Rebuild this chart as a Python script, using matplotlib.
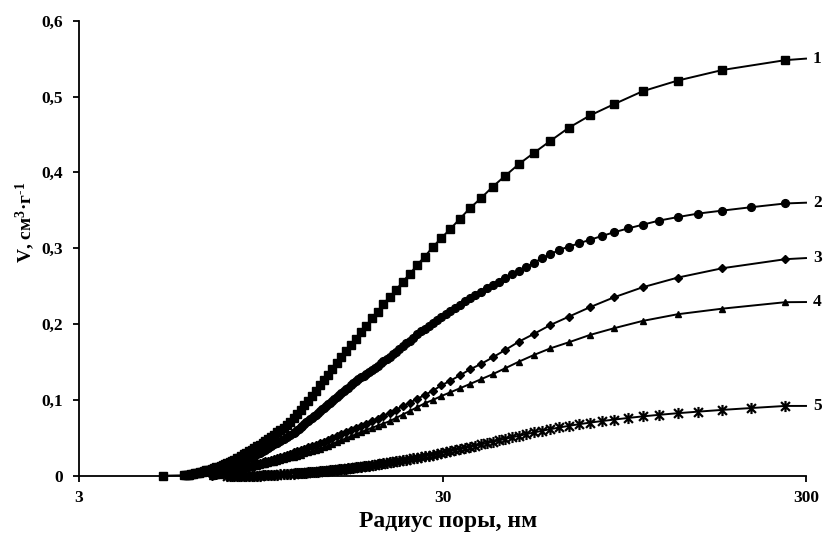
import matplotlib
matplotlib.use("Agg")
import matplotlib.pyplot as plt
from matplotlib.path import Path
from matplotlib.ticker import FixedLocator, FixedFormatter, NullLocator

plt.rcParams['font.family'] = ['Liberation Serif', 'DejaVu Serif']
plt.rcParams['font.weight'] = 'bold'
plt.rcParams['mathtext.fontset'] = 'custom'
plt.rcParams['mathtext.rm'] = 'Liberation Serif:bold'
plt.rcParams['mathtext.bf'] = 'Liberation Serif:bold'
plt.rcParams['mathtext.it'] = 'Liberation Serif:bold'

# ---------------- data ----------------
R_END = 300.0
V_END = [0.550, 0.360, 0.287, 0.229, 0.092]
LABELS = ["1", "2", "3", "4", "5"]

R1_START = [5.1]
V1_START = [0.0]

R_GRID = [263.2, 176.7, 133.0, 106.6, 88.97, 76.34, 66.84, 59.45, 53.53, 48.69,
          44.64, 41.22, 38.28, 35.74, 33.51, 31.55, 29.80, 28.23, 26.82, 25.55,
          24.39, 23.33, 22.36, 21.47, 20.64, 19.88, 19.17, 18.51, 17.90, 17.32,
          16.78, 16.27, 15.79, 15.34, 14.92, 14.51, 14.13, 13.77, 13.43, 13.10,
          12.79, 12.49, 12.21, 11.94, 11.68, 11.43, 11.19, 10.96, 10.74, 10.53,
          10.33, 10.14, 9.948, 9.768, 9.593, 9.425, 9.263, 9.106, 8.954, 8.807,
          8.666, 8.528, 8.395, 8.266, 8.141, 8.019, 7.901, 7.787, 7.676, 7.568,
          7.463, 7.361, 7.261, 7.164, 7.070, 6.978, 6.889, 6.802, 6.717, 6.634,
          6.553, 6.474, 6.397, 6.322, 6.248, 6.177, 6.107, 6.038, 5.971, 5.905,
          5.841]

R_DENSE = [263.2, 211.4, 176.7, 151.7, 133.0, 118.3, 106.6, 96.99, 88.97, 82.17,
           76.34, 71.28, 66.84, 62.93, 59.45, 56.34, 53.53, 50.99, 48.69, 46.58,
           44.64, 42.86, 41.22, 39.70, 38.28, 36.97, 35.74, 34.59, 33.51, 32.50,
           31.55, 30.65, 29.80, 28.99, 28.23, 27.51, 26.82, 26.17, 25.55, 24.96,
           24.39, 23.85, 23.33, 22.84, 22.36, 21.91, 21.47, 21.05, 20.64, 20.26,
           19.88, 19.52, 19.17, 18.84, 18.51, 18.20, 17.90, 17.60, 17.32, 17.04,
           16.78, 16.52, 16.27, 16.03, 15.79, 15.56, 15.34, 15.13, 14.92, 14.71,
           14.51, 14.32, 14.13, 13.95, 13.77, 13.60, 13.43, 13.26, 13.10, 12.94,
           12.79, 12.64, 12.49, 12.35, 12.21, 12.07, 11.94, 11.80,
           11.68, 11.43, 11.19, 10.96, 10.74, 10.53, 10.33, 10.14, 9.948, 9.768,
           9.593, 9.425, 9.263, 9.106, 8.954, 8.807, 8.666, 8.528, 8.395, 8.266,
           8.141, 8.019, 7.901, 7.787, 7.676, 7.568, 7.463, 7.361, 7.261, 7.164,
           7.070, 6.978, 6.889, 6.802, 6.717, 6.634, 6.553, 6.474, 6.397, 6.322,
           6.248, 6.177, 6.107, 6.038, 5.971, 5.905, 5.841]

V1 = [0.548, 0.535, 0.521, 0.507, 0.490, 0.475, 0.459, 0.4416, 0.4257, 0.411,
      0.3955, 0.381, 0.366, 0.353, 0.339, 0.3255, 0.3136, 0.3017, 0.289, 0.278,
      0.266, 0.256, 0.245, 0.236, 0.2265, 0.216, 0.2077, 0.198, 0.189, 0.180,
      0.172, 0.164, 0.156, 0.148, 0.141, 0.133, 0.126, 0.119, 0.112, 0.105,
      0.099, 0.093, 0.087, 0.081, 0.076, 0.071, 0.067, 0.063, 0.060, 0.057,
      0.054, 0.051, 0.048, 0.046, 0.043, 0.041, 0.039, 0.036, 0.034, 0.032,
      0.030, 0.028, 0.026, 0.024, 0.023, 0.021, 0.020, 0.018, 0.017, 0.016,
      0.014, 0.013, 0.012, 0.011, 0.010, 0.009, 0.008, 0.0075, 0.007, 0.006,
      0.0055, 0.005, 0.004, 0.0035, 0.003, 0.0025, 0.002, 0.0015, 0.001, 0.001,
      0.0005]

V2 = [0.359, 0.354, 0.3496, 0.3457, 0.341, 0.3364, 0.331, 0.326, 0.321, 0.316,
      0.311, 0.3066, 0.302, 0.298, 0.292, 0.2865, 0.281, 0.275, 0.2705, 0.2655,
      0.2605, 0.256, 0.2515, 0.247, 0.2425, 0.2385, 0.234, 0.2298, 0.2256, 0.2215,
      0.217, 0.2133, 0.2092, 0.2052, 0.2013, 0.1975, 0.1938, 0.1902, 0.1867, 0.1822,
      0.1782, 0.1745, 0.1708, 0.1672, 0.1637, 0.1603, 0.157, 0.1537, 0.1508, 0.148,
      0.1452, 0.1425, 0.1398, 0.1371, 0.1345, 0.132, 0.1295, 0.127, 0.1243, 0.1216,
      0.119, 0.1163, 0.1137, 0.1112, 0.1086, 0.1061, 0.1036, 0.1012, 0.0988, 0.0964,
      0.094, 0.0918, 0.0895, 0.0873, 0.0851, 0.0829, 0.0807, 0.0785, 0.0764, 0.0743,
      0.0723, 0.0702, 0.0681, 0.0661, 0.0641, 0.0621, 0.0602, 0.0582,
      0.0564, 0.0537, 0.0511, 0.0485, 0.0460, 0.0436, 0.0412, 0.0389, 0.0366, 0.0344,
      0.0322, 0.0300, 0.0283, 0.0266, 0.0250, 0.0234, 0.0219, 0.0204, 0.0192, 0.0181,
      0.0170, 0.0159, 0.0148, 0.0137, 0.0126, 0.0116, 0.0107, 0.0100, 0.0093, 0.0086,
      0.0079, 0.0073, 0.0067, 0.0061, 0.0055, 0.0050, 0.0045, 0.0040, 0.0035, 0.0030,
      0.0026, 0.0022, 0.0018, 0.0014, 0.0010, 0.0006, 0.0003]

V3 = [0.2855, 0.2736, 0.2612, 0.2485, 0.2353, 0.2222, 0.2098, 0.1988, 0.187, 0.1768,
      0.1658, 0.156, 0.1473, 0.1403, 0.1324, 0.1253, 0.1192, 0.1121, 0.1065, 0.1013,
      0.0963, 0.0916, 0.0871, 0.0828, 0.0790, 0.0754, 0.0719, 0.0686, 0.0656, 0.0627,
      0.0599, 0.0572, 0.0546, 0.0521, 0.0496, 0.0472, 0.0449, 0.0429, 0.0410, 0.0391,
      0.0373, 0.0355, 0.0338, 0.0321, 0.0306, 0.0292, 0.0278, 0.0264, 0.0251, 0.0238,
      0.0225, 0.0213, 0.0200, 0.0190, 0.0180, 0.0170, 0.0161, 0.0152, 0.0143, 0.0134,
      0.0124, 0.0115, 0.0106, 0.0097, 0.0086, 0.0075, 0.0064, 0.0055, 0.0046, 0.0037,
      0.0028, 0.0022, 0.0016, 0.0010, 0.0004, 0.0]

V4 = [0.2288, 0.2203, 0.2129, 0.2041, 0.1945, 0.1856, 0.176, 0.168, 0.1592, 0.1504,
      0.1417, 0.1338, 0.1272, 0.121, 0.1153, 0.110, 0.1051, 0.0999, 0.0955, 0.0903,
      0.0853, 0.0806, 0.0762, 0.0719, 0.0688, 0.0659, 0.0630, 0.0603, 0.0574, 0.0546,
      0.0519, 0.0493, 0.0468, 0.0443, 0.0419, 0.0396, 0.0375, 0.0358, 0.0342, 0.0326,
      0.0310, 0.0294, 0.0279, 0.0265, 0.0253, 0.0241, 0.0229, 0.0218, 0.0207, 0.0196,
      0.0185, 0.0175, 0.0167, 0.0158, 0.0150, 0.0142, 0.0134, 0.0127, 0.0119, 0.0111,
      0.0103, 0.0095, 0.0087, 0.0079, 0.0071, 0.0062, 0.0054, 0.0046, 0.0038, 0.0031,
      0.0024, 0.0018, 0.0012, 0.0007, 0.0003, 0.0]

V5 = [0.092, 0.0892, 0.0868, 0.0845, 0.0824, 0.0803, 0.0782, 0.0761, 0.0740, 0.0720,
      0.0700, 0.0679, 0.0658, 0.0636, 0.0614, 0.0592, 0.0570, 0.0548, 0.0527, 0.0506,
      0.0486, 0.0466, 0.0447, 0.0429, 0.0412, 0.0396, 0.0380, 0.0365, 0.0351, 0.0337,
      0.0324, 0.0311, 0.0299, 0.0288, 0.0277, 0.0266, 0.0256, 0.0246, 0.0237, 0.0228,
      0.0219, 0.0211, 0.0203, 0.0196, 0.0189, 0.0182, 0.0175, 0.0168, 0.0162, 0.0156,
      0.0150, 0.0144, 0.0139, 0.0134, 0.0129, 0.0124, 0.0119, 0.0114, 0.0110, 0.0106,
      0.0102, 0.0098, 0.0094, 0.0090, 0.0086, 0.0083, 0.0080, 0.0077, 0.0074, 0.0071,
      0.0068, 0.0065, 0.0062, 0.0059, 0.0057, 0.0055, 0.0052, 0.0050, 0.0048, 0.0046,
      0.0044, 0.0042, 0.0040, 0.0038, 0.0036, 0.0034, 0.0032, 0.0030,
      0.0029, 0.0025, 0.0022, 0.0019, 0.0016, 0.0013, 0.0011, 0.0009, 0.0007, 0.0005,
      0.0003, 0.0002, 0.0001, 0.0, 0.0, 0.0, 0.0, 0.0, 0.0, 0.0,
      0.0, 0.0, 0.0, 0.0, 0.0]

Y_TICKS = [0.0, 0.1, 0.2, 0.3, 0.4, 0.5, 0.6]
Y_TICK_LABELS = ["0", "0,1", "0,2", "0,3", "0,4", "0,5", "0,6"]
X_TICKS = [3, 30, 300]
X_TICK_LABELS = ["3", "30", "300"]
X_LABEL = "Радиус поры, нм"
Y_LABEL = "V, см$^{3}$·г$^{\\mathrm{\u2010}1}$"

# ---------------- markers ----------------
asterisk = Path([(0, -1), (0, 1), (-0.8, -0.8), (0.8, 0.8), (-0.8, 0.8), (0.8, -0.8)],
                [Path.MOVETO, Path.LINETO, Path.MOVETO, Path.LINETO, Path.MOVETO, Path.LINETO])

fig = plt.figure(figsize=(8.24, 5.33), dpi=100)
ax = fig.add_axes([79 / 824, (533 - 475.7) / 533, (806 - 79) / 824, (475.7 - 20.7) / 533])

series = [
    (R_GRID[:len(V1)] + R1_START, V1 + V1_START, dict(marker='s', ms=5.6)),
    (R_DENSE[:len(V2)], V2, dict(marker='o', ms=5.6)),
    (R_GRID[:len(V3)], V3, dict(marker='D', ms=4.0)),
    (R_GRID[:len(V4)], V4, dict(marker='^', ms=5.0)),
    (R_DENSE[:len(V5)], V5, dict(marker=asterisk, ms=8.0, mew=1.6, fillstyle='none')),
]

for i, (rx, vy, mk) in enumerate(series):
    xs = [R_END] + list(rx)
    ys = [V_END[i]] + list(vy)
    ax.plot(xs, ys, color='black', lw=1.4, markevery=list(range(1, len(xs))),
            mfc='black', mec='black', clip_on=False, zorder=3, **mk)
    ax.annotate(LABELS[i], xy=(R_END, V_END[i]), xytext=(5, 0), textcoords='offset points',
                ha='left', va='center', fontsize=12.5, fontweight='bold', annotation_clip=False)

ax.set_xscale('log')
ax.set_xlim(3, 300)
ax.set_ylim(0, 0.6)
ax.xaxis.set_major_locator(FixedLocator(X_TICKS))
ax.xaxis.set_major_formatter(FixedFormatter(X_TICK_LABELS))
ax.xaxis.set_minor_locator(NullLocator())
ax.yaxis.set_major_locator(FixedLocator(Y_TICKS))
ax.yaxis.set_major_formatter(FixedFormatter(Y_TICK_LABELS))

for s in ['top', 'right']:
    ax.spines[s].set_visible(False)
for s in ['left', 'bottom']:
    ax.spines[s].set_linewidth(1.3)

ax.tick_params(axis='both', direction='out', length=4.5, width=1.3, labelsize=12.5, colors='black')
ax.tick_params(axis='y', pad=7)
ax.tick_params(axis='x', pad=6)
for lab in ax.get_xticklabels() + ax.get_yticklabels():
    lab.set_fontweight('bold')

fig.text(448 / 824, 1 - 521 / 533, X_LABEL, ha='center', va='center', fontsize=17, fontweight='bold')
fig.text(25 / 824, 1 - 222 / 533, Y_LABEL, ha='center', va='center', rotation=90,
         fontsize=14, fontweight='bold')

fig.savefig('out.png', dpi=100)
